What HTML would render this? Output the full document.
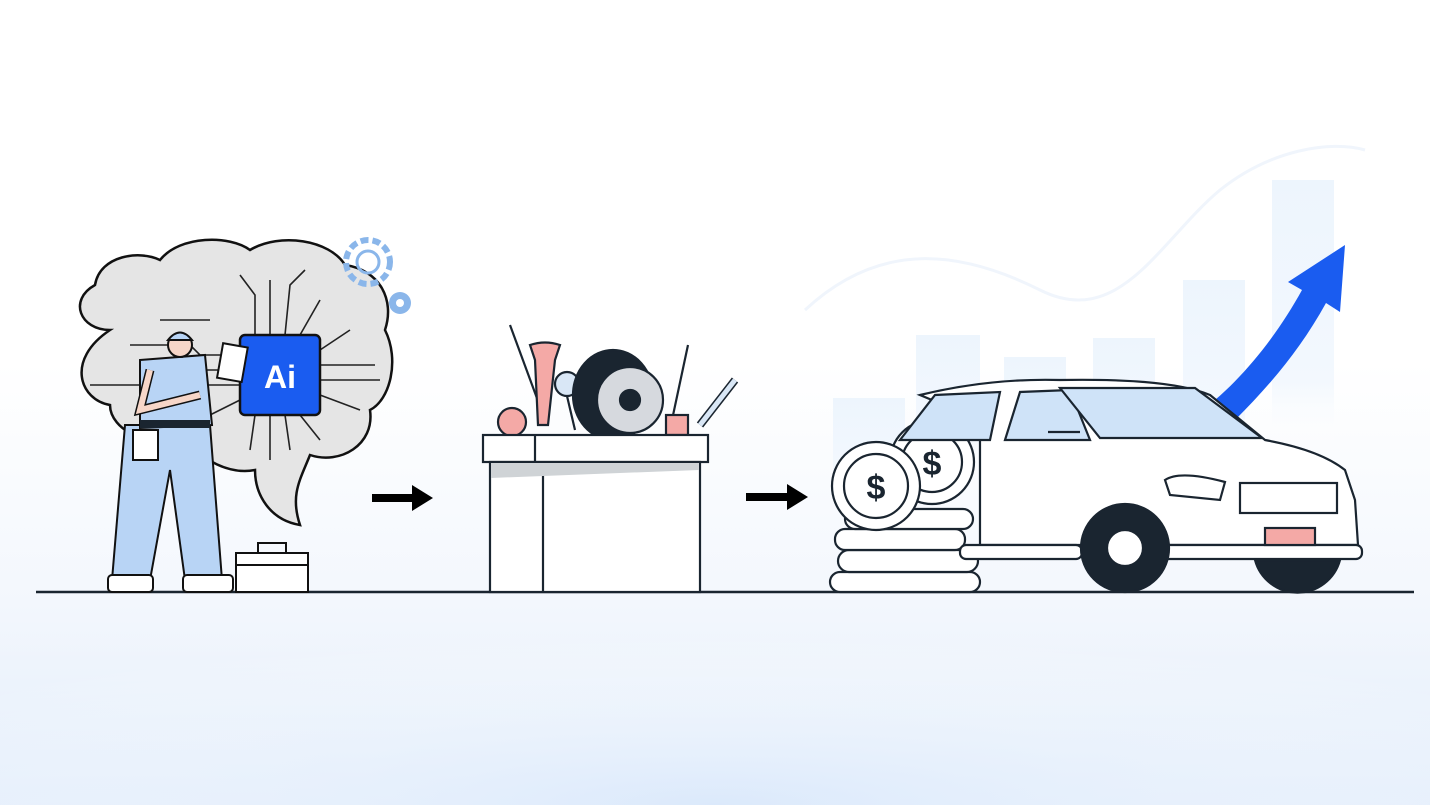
<!DOCTYPE html>
<html><head><meta charset="utf-8"><style>
html,body{margin:0;padding:0;width:1430px;height:805px;overflow:hidden;}
body{background:linear-gradient(180deg,#ffffff 0%,#ffffff 45%,#f3f7fd 75%,#e2edfb 100%);}
svg{position:absolute;left:0;top:0}
</style></head><body>
<svg width="1430" height="805" viewBox="0 0 1430 805" xmlns="http://www.w3.org/2000/svg" font-family="Liberation Sans, sans-serif">
<defs><radialGradient id="g" cx="0.5" cy="1" r="0.7"><stop offset="0" stop-color="#dbe9fb"/><stop offset="1" stop-color="#ffffff" stop-opacity="0"/></radialGradient>
<linearGradient id="bf" x1="0" y1="0" x2="0" y2="1"><stop offset="0" stop-color="#edf5fd"/><stop offset="0.75" stop-color="#f3f8fe"/><stop offset="1" stop-color="#ffffff" stop-opacity="0"/></linearGradient></defs>
<rect x="0" y="560" width="1430" height="245" fill="url(#g)"/>
<!-- bars -->
<g fill="url(#bf)">
<rect x="833" y="398" width="72" height="100"/><rect x="916" y="335" width="64" height="140"/>
<rect x="1004" y="357" width="62" height="120"/><rect x="1093" y="338" width="62" height="130"/>
<rect x="1183" y="280" width="62" height="180"/><rect x="1272" y="180" width="62" height="270"/>
</g>
<path d="M805 310 C880 240 960 250 1040 290 C1120 330 1160 240 1220 190 C1270 150 1330 140 1365 150" fill="none" stroke="#f0f5fc" stroke-width="3"/>
<!-- blue arrow -->
<path d="M1215 400 C1250 370 1280 330 1302 290 L1288 282 L1345 245 L1340 312 L1326 303 C1300 350 1270 385 1235 420 Z" fill="#1a5cf0"/>
<!-- ground -->
<line x1="36" y1="592" x2="1414" y2="592" stroke="#1a2530" stroke-width="2.5"/>
<!-- brain -->
<path d="M110 330 C80 330 68 300 95 285 C100 255 140 250 160 260 C180 235 230 235 250 250 C280 232 330 240 345 265 C380 270 395 300 385 330 C400 360 390 400 370 410 C375 445 340 465 310 455 C300 480 290 495 300 525 C270 520 255 495 255 470 C230 475 200 460 190 440 C150 450 110 430 110 405 C80 400 65 360 110 330 Z" fill="#e5e5e5" stroke="#111" stroke-width="2.5"/>
<g stroke="#222" stroke-width="1.6" fill="none">
<path d="M240 355 L200 355 L185 340"/><path d="M240 370 L150 370"/><path d="M240 385 L120 385"/><path d="M240 400 L200 420"/>
<path d="M320 350 L350 330"/><path d="M320 365 L375 365"/><path d="M320 380 L380 380"/><path d="M320 395 L360 410"/>
<path d="M255 335 L255 295 L240 275"/><path d="M270 335 L270 280"/><path d="M285 335 L290 285 L305 270"/><path d="M300 335 L320 300"/>
<path d="M255 415 L250 450"/><path d="M270 415 L270 460"/><path d="M285 415 L290 450"/><path d="M300 415 L320 440"/>
<path d="M160 320 L210 320"/><path d="M130 345 L175 345"/><path d="M90 385 L120 385"/>
</g>
<rect x="240" y="335" width="80" height="80" rx="5" fill="#1a5cf0" stroke="#111" stroke-width="2.5"/>
<text x="280" y="388" font-size="32" font-weight="bold" fill="#fff" text-anchor="middle">Ai</text>
<circle cx="368" cy="262" r="22" fill="none" stroke="#8ab6ea" stroke-width="6" stroke-dasharray="8 4"/><circle cx="368" cy="262" r="11" fill="none" stroke="#8ab6ea" stroke-width="3"/>
<circle cx="400" cy="303" r="11" fill="#8ab6ea"/><circle cx="400" cy="303" r="4" fill="#fff"/>
<!-- worker -->
<path d="M125 425 L210 425 L222 580 L185 580 L170 470 L150 580 L112 580 Z" fill="#b8d4f5" stroke="#111" stroke-width="2"/>
<path d="M140 360 L205 355 L212 425 L140 428 Z" fill="#b8d4f5" stroke="#111" stroke-width="2"/>
<rect x="140" y="420" width="70" height="8" fill="#1a2530"/>
<circle cx="180" cy="345" r="12" fill="#f6d6c8" stroke="#111" stroke-width="2"/>
<path d="M168 340 Q180 325 192 340 Z" fill="#b8d4f5" stroke="#111" stroke-width="2"/>
<path d="M150 370 L140 410 L200 395" fill="none" stroke="#111" stroke-width="9"/>
<path d="M150 370 L140 410 L200 395" fill="none" stroke="#f6d6c8" stroke-width="6"/>
<rect x="220" y="345" width="25" height="35" fill="#fff" stroke="#111" stroke-width="2" transform="rotate(10 232 362)"/>
<rect x="133" y="430" width="25" height="30" fill="#fff" stroke="#111" stroke-width="2"/>
<rect x="108" y="575" width="45" height="17" rx="4" fill="#fff" stroke="#111" stroke-width="2"/>
<rect x="183" y="575" width="50" height="17" rx="4" fill="#fff" stroke="#111" stroke-width="2"/>
<rect x="236" y="553" width="72" height="39" fill="#fff" stroke="#111" stroke-width="2"/>
<line x1="236" y1="565" x2="308" y2="565" stroke="#111" stroke-width="2"/>
<rect x="258" y="543" width="28" height="10" fill="none" stroke="#111" stroke-width="2"/>
<!-- arrows -->
<path d="M372 494 L412 494 L412 485 L433 498 L412 511 L412 502 L372 502 Z" fill="#000"/>
<path d="M746 493 L787 493 L787 484 L808 497 L787 510 L787 501 L746 501 Z" fill="#000"/>
<!-- tools box -->
<g stroke="#1a2530" stroke-width="2.2">
<line x1="510" y1="325" x2="545" y2="420"/><line x1="688" y1="345" x2="672" y2="420"/>
<path d="M530 345 Q545 340 560 345 L555 360 L548 425 L538 425 L535 360 Z" fill="#f4a9a6"/>
<circle cx="567" cy="384" r="12" fill="#d9e7f6"/><path d="M567 396 L575 430" />
<ellipse cx="613" cy="395" rx="40" ry="45" fill="#1a2530"/>
<circle cx="630" cy="400" r="33" fill="#d6d9de"/><circle cx="630" cy="400" r="10" fill="#1a2530"/>
<path d="M735 380 L700 425" stroke-width="8"/><path d="M735 380 L700 425" stroke="#d9e7f6" stroke-width="5"/>
<circle cx="512" cy="422" r="14" fill="#f4a9a6"/>
<rect x="666" y="415" width="22" height="20" fill="#f4a9a6"/>
<rect x="483" y="435" width="225" height="27" fill="#fff"/>
<rect x="490" y="462" width="210" height="130" fill="#fff"/>
<line x1="535" y1="435" x2="535" y2="462"/><line x1="543" y1="462" x2="543" y2="592"/>
</g>
<path d="M491 463 L699 463 L699 470 L491 478 Z" fill="#cfd3d6"/>
<!-- coins -->
<g stroke="#1a2530" stroke-width="2.2" fill="#fff">
<rect x="830" y="572" width="150" height="20" rx="10"/><rect x="838" y="550" width="140" height="22" rx="11"/>
<rect x="835" y="529" width="130" height="21" rx="10"/><rect x="845" y="509" width="128" height="20" rx="10"/>
<circle cx="932" cy="462" r="42"/><circle cx="932" cy="462" r="30"/>
<circle cx="876" cy="486" r="44"/><circle cx="876" cy="486" r="32"/>
</g>
<text x="932" y="475" font-size="34" font-weight="bold" fill="#1a2530" text-anchor="middle">$</text>
<text x="876" y="499" font-size="34" font-weight="bold" fill="#1a2530" text-anchor="middle">$</text>
<!-- car -->
<g stroke="#1a2530" stroke-width="2.2">
<path d="M980 420 L920 395 Q990 378 1060 380 Q1170 378 1210 395 L1265 440 Q1320 450 1345 470 L1355 500 L1358 545 L980 545 Z" fill="#fff"/>
<path d="M900 440 L935 395 L1000 392 L990 440 Z" fill="#cfe3f8"/>
<path d="M1005 440 L1020 392 L1070 390 L1090 440 Z" fill="#cfe3f8"/>
<path d="M1060 388 L1195 388 L1262 438 L1100 438 Z" fill="#cfe3f8"/>
<rect x="1240" y="483" width="97" height="30" fill="#fff"/>
<path d="M1165 480 Q1180 470 1225 482 L1220 500 L1170 495 Z" fill="#fff"/>
<rect x="1150" y="545" width="212" height="14" rx="6" fill="#fff"/>
<rect x="1265" y="528" width="50" height="17" fill="#f4a9a6"/>
<rect x="960" y="545" width="122" height="14" rx="6" fill="#fff"/>
<circle cx="1125" cy="548" r="44" fill="#1a2530"/><circle cx="1125" cy="548" r="18" fill="#fff"/>
<path d="M1255 560 A44 44 0 0 0 1340 560 Z" fill="#1a2530"/>
<line x1="1048" y1="432" x2="1080" y2="432"/>
</g>
</svg>
</body></html>
